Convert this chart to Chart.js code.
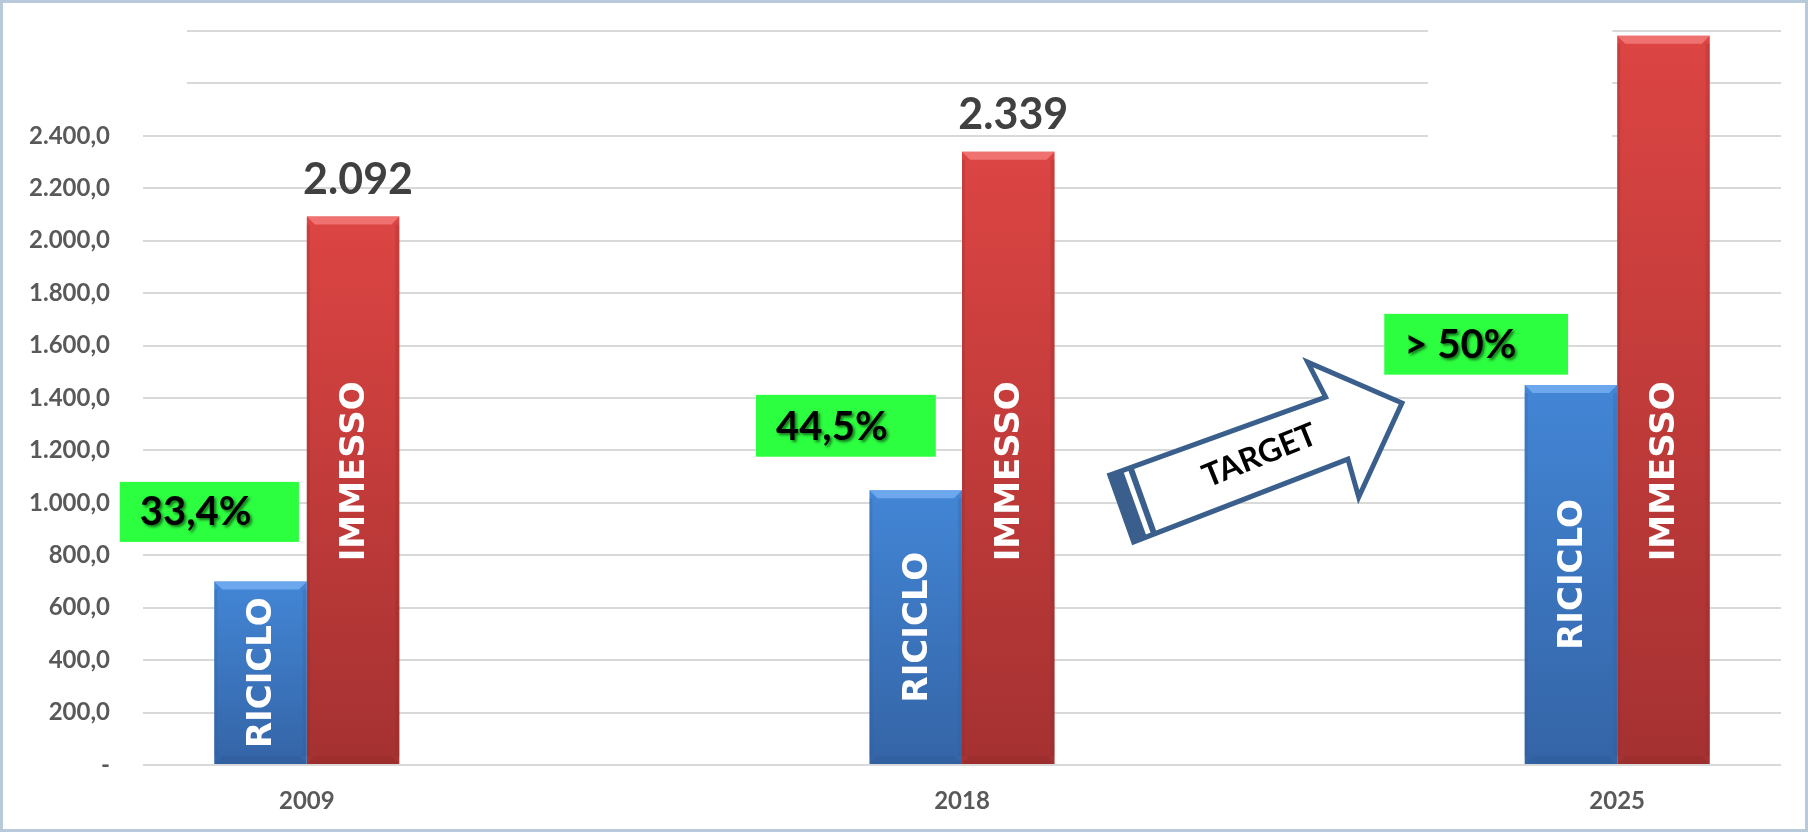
<!DOCTYPE html>
<html><head><meta charset="utf-8">
<script src="https://cdn.jsdelivr.net/npm/chart.js@4"></script>
<style>html,body{margin:0;padding:0;background:#fff}#wrap{width:1808px;height:832px}canvas{display:block}</style>
</head><body><div id="wrap"><canvas id="c" width="1808" height="832"></canvas></div>
<script>
// ---- data ----
const categories = ['2009', '', '2018', '', '2025'];
const riciclo = [700, null, 1048, null, 1450];
const immesso = [2092, null, 2339, null, 2782];
const immessoValueLabels = ['2.092', null, '2.339', null, null];
const percentLabels = ['33,4%', '44,5%', '> 50%'];
const seriesNames = ['RICICLO', 'IMMESSO'];
const yMin = 0, yMax = 2800, yStep = 200, yLabelMax = 2400;

// ---- annotation placement (category index units / value units) ----
const percentBoxes = [
  { i0: -0.571, i1: -0.024, v0: 851, v1: 1080 },
  { i0: 1.371, i1: 1.920, v0: 1176, v1: 1412 },
  { i0: 3.289, i1: 3.850, v0: 1489, v1: 1721 }
];
const coverRects = [
  { i0: -0.9, i1: -0.366, v0: 2500, v1: 2920 },
  { i0: 3.422, i1: 3.985, v0: 2300, v1: 2920 }
];
const arrowShape = {
  tailTop: [2.451, 1106], notchTop: [3.110, 1403], headTop: [3.055, 1537],
  tip: [3.343, 1381], headBot: [3.211, 1022], notchBot: [3.178, 1167], tailBot: [2.524, 851]
};
const arrowText = { i: 2.909, v: 1180, text: 'TARGET', angle: -22 };
const immessoTextValue = 1120;

function fmt(v) {
  if (v === 0) return '-';
  if (v > yLabelMax) return '';
  const s = String(Math.round(v));
  const g = s.replace(/\B(?=(\d{3})+(?!\d))/g, '.');
  return g + ',0';
}

function barGradient(ctx, top, bottom, c1, c2) {
  const g = ctx.createLinearGradient(0, top, 0, bottom);
  g.addColorStop(0, c1); g.addColorStop(1, c2);
  return g;
}
function scriptBg(c1, c2) {
  return (sc) => {
    const chart = sc.chart;
    const ys = chart.scales && chart.scales.y;
    if (!ys || sc.type !== 'data' || sc.raw == null || !isFinite(ys.top)) return c1;
    return barGradient(chart.ctx, ys.getPixelForValue(sc.raw), ys.getPixelForValue(0), c1, c2);
  };
}

const decorPlugin = {
  id: 'decor',
  beforeDraw(chart) {
    const c = chart.ctx;
    c.save(); c.fillStyle = '#ffffff'; c.fillRect(0, 0, chart.width, chart.height); c.restore();
  },
  beforeDatasetsDraw(chart) {
    const c = chart.ctx, xs = chart.scales.x, ys = chart.scales.y;
    c.save(); c.fillStyle = '#ffffff';
    coverRects.forEach(r => {
      const x0 = xs.getPixelForValue(r.i0), x1 = xs.getPixelForValue(r.i1);
      const y0 = ys.getPixelForValue(r.v1), y1 = ys.getPixelForValue(r.v0);
      c.fillRect(x0, Math.max(4, y0), x1 - x0, y1 - Math.max(4, y0));
    });
    c.restore();
  },
  afterDatasetsDraw(chart) {
    const c = chart.ctx, xs = chart.scales.x, ys = chart.scales.y;
    const P = (p) => [xs.getPixelForValue(p[0]), ys.getPixelForValue(p[1])];
    const bevel = [['#74aef2', '#2e5a96'], ['#f27a78', '#8f2a2a']];
    chart.data.datasets.forEach((ds, di) => {
      const meta = chart.getDatasetMeta(di);
      meta.data.forEach((el, i) => {
        if (ds.data[i] == null) return;
        const w = el.width, l = el.x - w / 2, r = el.x + w / 2, t = el.y, b = el.base, d = 8;
        c.save();
        c.fillStyle = bevel[di][0]; c.globalAlpha = 0.85;
        c.beginPath(); c.moveTo(l, t); c.lineTo(r, t); c.lineTo(r - d, t + d); c.lineTo(l + d, t + d); c.closePath(); c.fill();
        c.globalAlpha = 0.35; c.fillStyle = bevel[di][1];
        c.beginPath(); c.moveTo(l, b); c.lineTo(r, b); c.lineTo(r - d, b - d); c.lineTo(l + d, b - d); c.closePath(); c.fill();
        c.globalAlpha = 0.25;
        c.fillRect(r - 4, t + d, 4, b - t - 2 * d);
        c.fillRect(l, t + d, 3, b - t - 2 * d);
        c.restore();
        c.save();
        c.fillStyle = '#ffffff';
        c.font = 'bold 34px "DejaVu Sans"';
        c.textAlign = 'center'; c.textBaseline = 'middle';
        const cy = di === 0 ? (t + b) / 2 : ys.getPixelForValue(immessoTextValue);
        c.translate(el.x, cy); c.rotate(-Math.PI / 2);
        c.fillText(seriesNames[di], 0, 2);
        c.restore();
        if (di === 1 && immessoValueLabels[i]) {
          c.save();
          c.fillStyle = '#404040'; c.font = 'bold 43px Lato';
          c.textAlign = 'center'; c.textBaseline = 'alphabetic';
          c.fillText(immessoValueLabels[i], el.x + 5, t - 23);
          c.restore();
        }
      });
    });
    percentBoxes.forEach((bx, k) => {
      const x0 = xs.getPixelForValue(bx.i0), x1 = xs.getPixelForValue(bx.i1);
      const y0 = ys.getPixelForValue(bx.v1), y1 = ys.getPixelForValue(bx.v0);
      c.save();
      c.fillStyle = '#2cff3f'; c.fillRect(x0, y0, x1 - x0, y1 - y0);
      c.font = 'bold 40px Lato'; c.fillStyle = '#000000';
      c.shadowColor = 'rgba(0,0,0,0.55)'; c.shadowOffsetX = 2; c.shadowOffsetY = 2; c.shadowBlur = 3;
      c.textAlign = 'left'; c.textBaseline = 'alphabetic';
      c.fillText(percentLabels[k], x0 + 20, y1 - 17);
      c.restore();
    });
    const A = arrowShape;
    const pts = [A.tailTop, A.notchTop, A.headTop, A.tip, A.headBot, A.notchBot, A.tailBot].map(P);
    c.save();
    c.beginPath(); pts.forEach((p, i) => i ? c.lineTo(p[0], p[1]) : c.moveTo(p[0], p[1])); c.closePath();
    c.fillStyle = '#ffffff'; c.fill();
    const tT = P(A.tailTop), nT = P(A.notchTop), tB = P(A.tailBot), nB = P(A.notchBot);
    const unit = (a, b) => { const dx = b[0] - a[0], dy = b[1] - a[1], L = Math.hypot(dx, dy); return [dx / L, dy / L]; };
    const uT = unit(tT, nT), uB = unit(tB, nB);
    const off = (p, u, s) => [p[0] + u[0] * s, p[1] + u[1] * s];
    c.fillStyle = '#3a5f8c';
    let q = [tT, off(tT, uT, 14), off(tB, uB, 14), tB];
    c.beginPath(); q.forEach((p, i) => i ? c.lineTo(p[0], p[1]) : c.moveTo(p[0], p[1])); c.closePath(); c.fill();
    q = [off(tT, uT, 19), off(tT, uT, 25), off(tB, uB, 25), off(tB, uB, 19)];
    c.beginPath(); q.forEach((p, i) => i ? c.lineTo(p[0], p[1]) : c.moveTo(p[0], p[1])); c.closePath(); c.fill();
    c.beginPath(); pts.forEach((p, i) => i ? c.lineTo(p[0], p[1]) : c.moveTo(p[0], p[1])); c.closePath();
    c.strokeStyle = '#3a5f8c'; c.lineWidth = 5; c.lineJoin = 'miter'; c.stroke();
    const tp = P([arrowText.i, arrowText.v]);
    c.translate(tp[0], tp[1]); c.rotate(arrowText.angle * Math.PI / 180);
    c.fillStyle = '#000000'; c.font = 'bold 32px Lato'; c.textAlign = 'center'; c.textBaseline = 'middle';
    c.fillText(arrowText.text, 0, 0);
    c.restore();
  },
  afterDraw(chart) {
    const c = chart.ctx;
    c.save(); c.strokeStyle = '#b8c9dc'; c.lineWidth = 3;
    c.strokeRect(1.5, 1.5, chart.width - 3, chart.height - 3);
    c.restore();
  }
};

new Chart(document.getElementById('c'), {
  type: 'bar',
  data: {
    labels: categories,
    datasets: [
      { label: seriesNames[0], data: riciclo, backgroundColor: scriptBg('#4386d6', '#3464a6'), borderWidth: 0 },
      { label: seriesNames[1], data: immesso, backgroundColor: scriptBg('#dc4543', '#a53131'), borderWidth: 0 }
    ]
  },
  options: {
    responsive: false, devicePixelRatio: 1, animation: false,
    layout: { padding: { top: 31, right: 27, left: 0, bottom: 0 } },
    plugins: { legend: { display: false }, tooltip: { enabled: false } },
    datasets: { bar: { categoryPercentage: 0.565, barPercentage: 1.0 } },
    scales: {
      x: {
        grid: { display: false, drawTicks: false }, border: { display: false },
        ticks: { color: '#595959', font: { family: 'Lato', weight: 'bold', size: 24 }, padding: 22, maxRotation: 0, autoSkip: false },
        afterFit(s) { s.height = 67; s.paddingLeft = 0; s.paddingRight = 0; }
      },
      y: {
        min: yMin, max: yMax,
        grid: { color: '#d9d9d9', lineWidth: 2, drawTicks: false }, border: { display: false },
        ticks: { stepSize: yStep, color: '#595959', font: { family: 'Lato', weight: 'bold', size: 24 }, padding: 33, callback: (v) => fmt(v) },
        afterFit(s) { s.width = 143; s.paddingTop = 0; s.paddingBottom = 0; }
      }
    }
  },
  plugins: [decorPlugin]
});
</script>
</body></html>
